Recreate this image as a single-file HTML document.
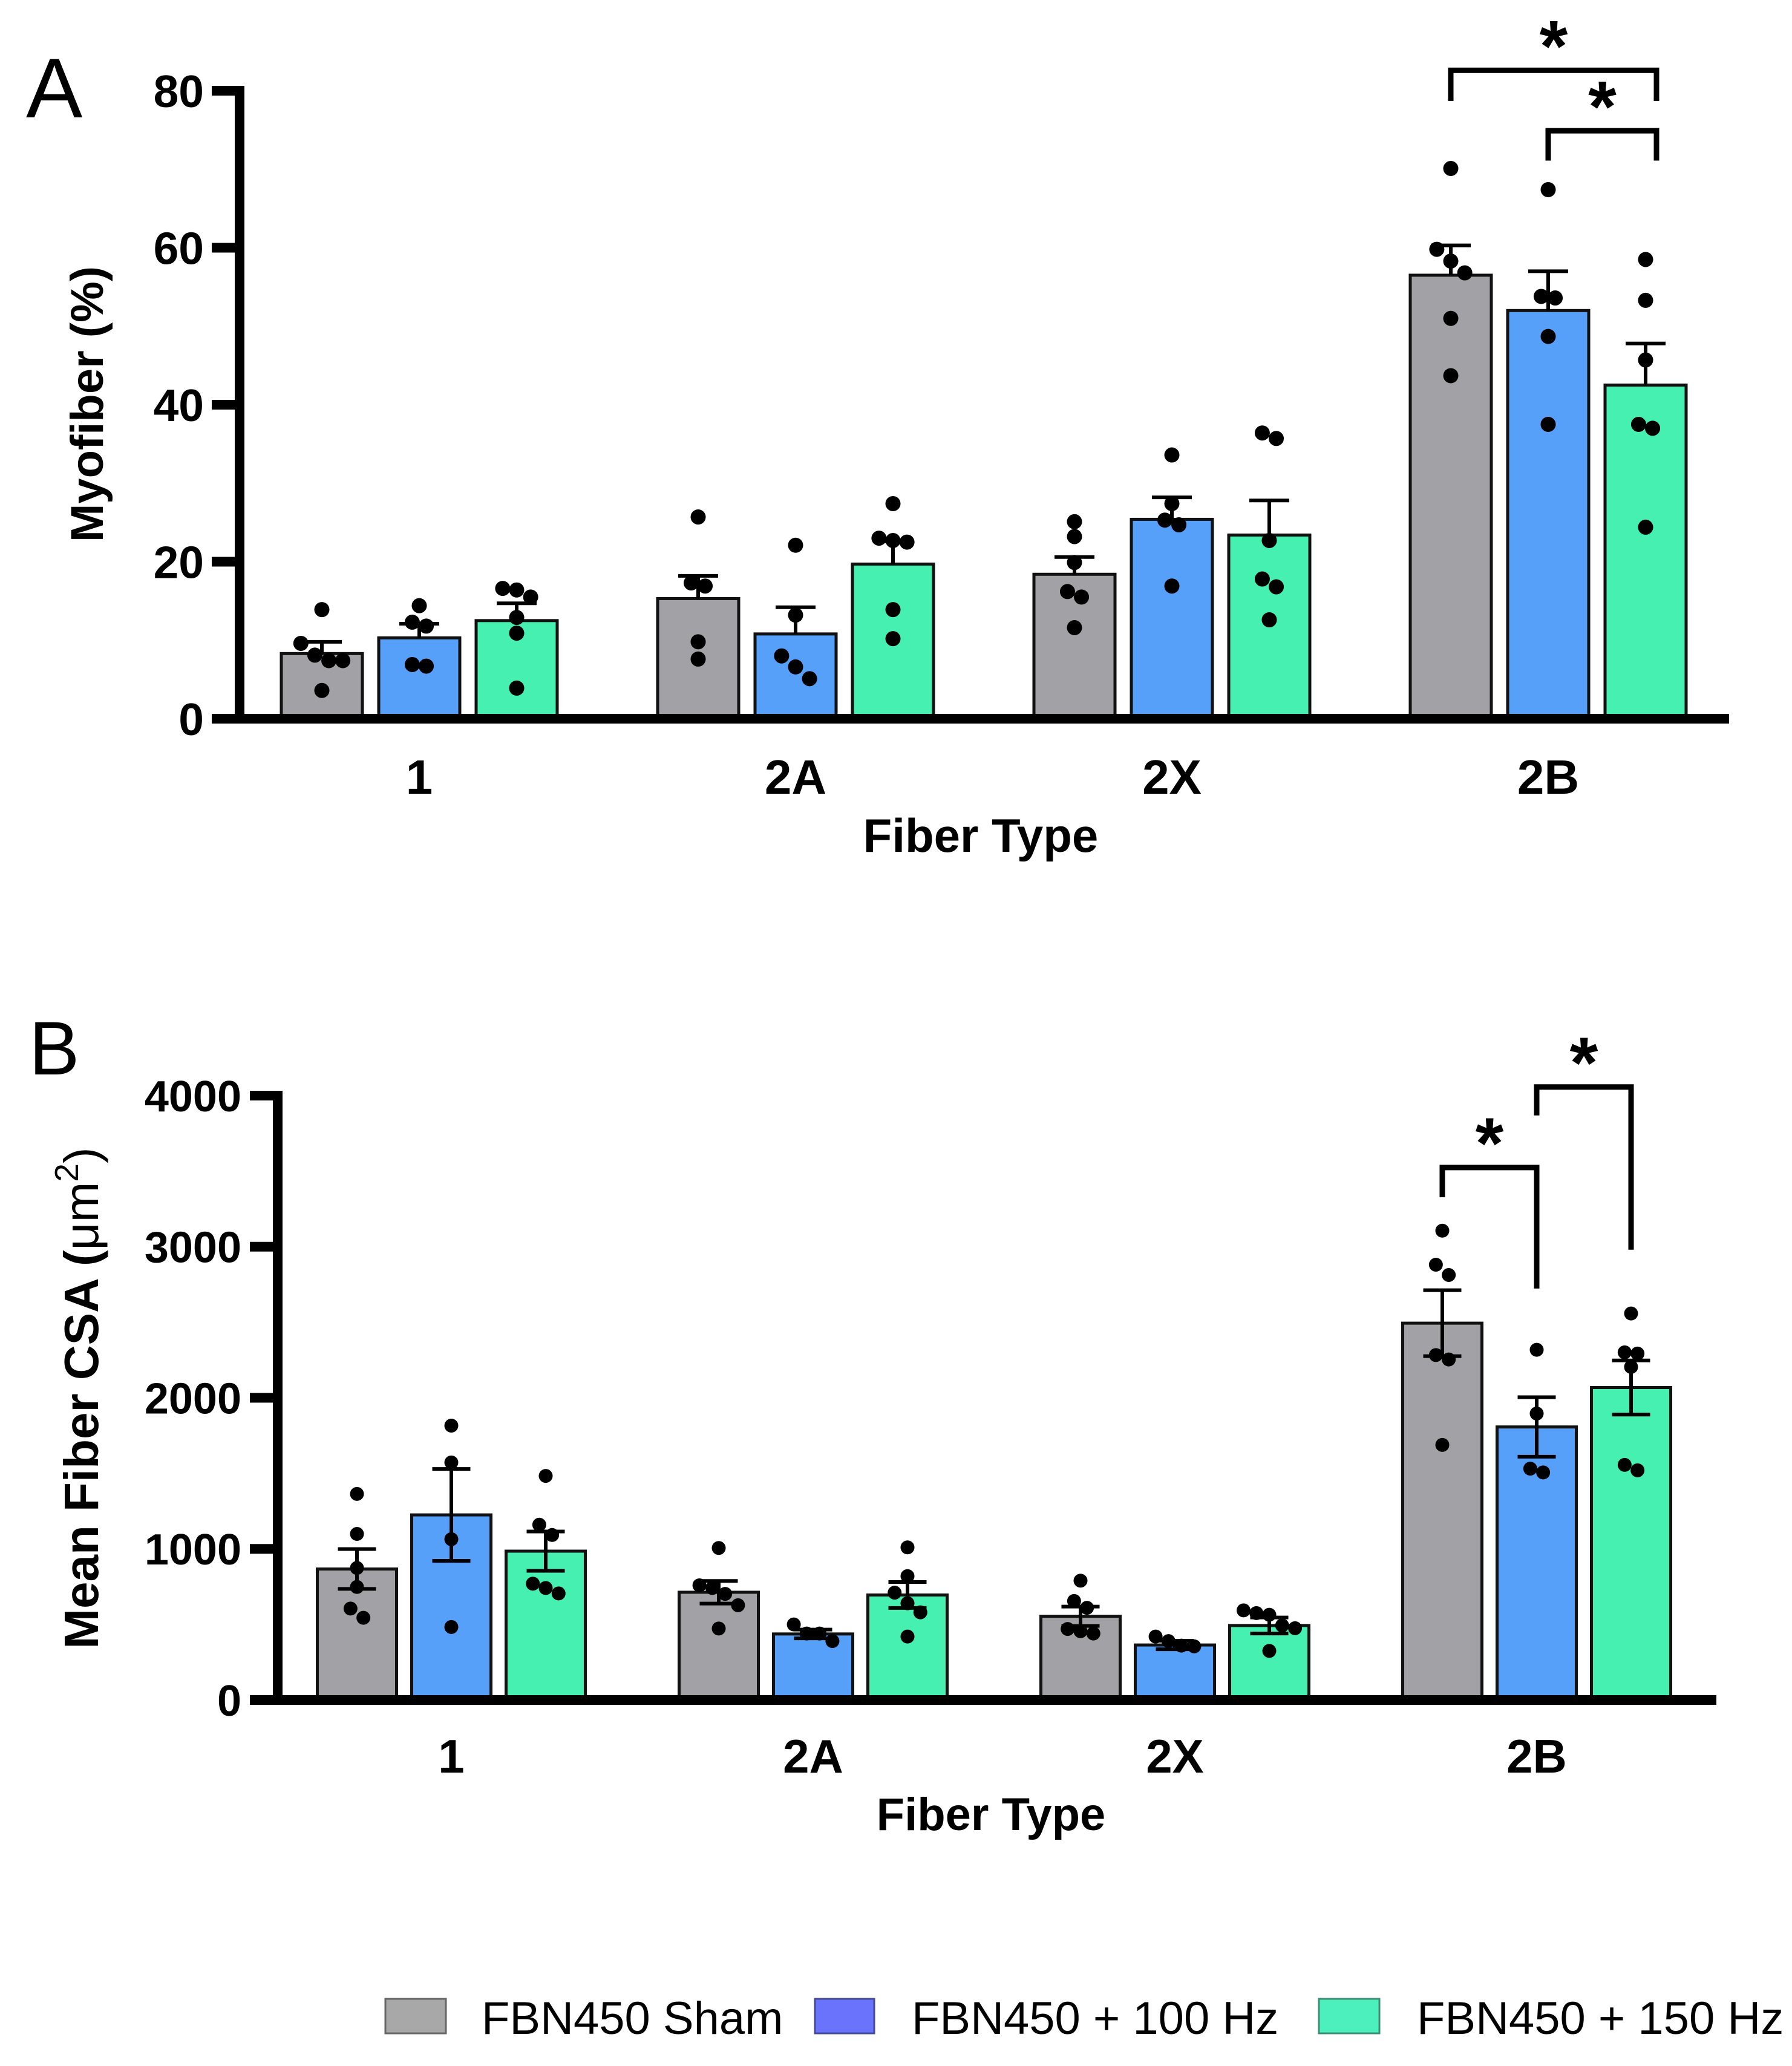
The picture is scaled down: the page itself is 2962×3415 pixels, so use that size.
<!DOCTYPE html>
<html><head><meta charset="utf-8">
<style>
html,body{margin:0;padding:0;background:#fff;}
svg{display:block;font-family:"Liberation Sans",Arial,sans-serif;}
</style></head>
<body>
<svg id="fig" width="2962" height="3415" viewBox="0 0 2962 3415" xmlns="http://www.w3.org/2000/svg">
  <rect x="0" y="0" width="2962" height="3415" fill="#fff"/>
  <text x="43" y="194" font-size="140">A</text>
  <text x="48" y="1776" font-size="125">B</text>
  <g id="chartA"></g>
  <g id="chartB"></g>
  <g>
    <g>
      <rect x="637" y="3304" width="100" height="57" fill="#a8a8a8" stroke="#666" stroke-width="3"/>
      <text x="796" y="3362" font-size="76">FBN450 Sham</text>
    </g>
    <g>
      <rect x="1347" y="3304" width="98" height="57" fill="#6a73fb" stroke="#444a99" stroke-width="3"/>
      <text x="1507" y="3362" font-size="76">FBN450 + 100 Hz</text>
    </g>
    <g>
      <rect x="2180" y="3304" width="100" height="57" fill="#4cf0bc" stroke="#3a8f73" stroke-width="3"/>
      <text x="2342" y="3362" font-size="76">FBN450 + 150 Hz</text>
    </g>
  </g>
</svg>
<script>
// ---------- shared ----------
const categories = ["1", "2A", "2X", "2B"];
const seriesNames = ["sham", "100hz", "150hz"];
const seriesColors = ["#a2a2a6", "#56a0fa", "#45f0b0"];

// ---------- Chart A data (Myofiber %) ----------
const aTicks = [0, 20, 40, 60, 80];
const aMeans = [[8.3, 10.3, 12.5], [15.3, 10.8, 19.7], [18.4, 25.4, 23.4], [56.5, 52.0, 42.5]];
const aErr = [[1.5, 1.8, 2.2], [2.9, 3.4, 2.9], [2.2, 2.8, 4.4], [3.8, 5.0, 5.3]];
const aPoints = [
  [[13.9, 9.6, 8.1, 7.4, 7.4, 3.6], [14.4, 12.3, 11.8, 6.9, 6.7], [16.6, 16.4, 15.5, 12.9, 10.9, 3.9]],
  [[25.7, 17.3, 16.9, 9.8, 7.6], [22.1, 13.2, 8.0, 6.6, 5.1], [27.4, 23.0, 22.7, 22.5, 13.9, 10.2]],
  [[25.1, 23.2, 19.9, 16.2, 15.5, 11.6], [33.6, 27.4, 25.3, 24.7, 16.9], [36.4, 35.7, 22.7, 17.8, 16.8, 12.6]],
  [[70.1, 59.8, 58.3, 56.8, 51.0, 43.7], [67.4, 53.8, 53.6, 48.7, 37.5], [58.5, 53.3, 45.7, 37.5, 37.0, 24.4]]
];
// brackets: [group, fromSeries, toSeries, topValue, leftLegValue, rightLegValue]
const aBrackets = [[3, 0, 2, 82.6, 78.7, 78.7], [3, 1, 2, 74.9, 71.1, 71.1]];

// ---------- Chart B data (CSA um^2) ----------
const bTicks = [0, 1000, 2000, 3000, 4000];
const bMeans = [[867, 1225, 985], [713, 437, 695], [554, 364, 493], [2494, 1807, 2068]];
const bErr = [[132, 304, 130], [75, 29, 86], [64, 28, 53], [218, 197, 179]];
const bPoints = [
  [[1364, 1099, 874, 748, 605, 544], [1816, 1572, 1064, 483], [1483, 1160, 1092, 770, 741, 705]],
  [[1006, 759, 741, 702, 627, 473], [500, 440, 440, 390], [1010, 820, 710, 640, 580, 420]],
  [[790, 655, 610, 470, 455, 440], [420, 390, 360, 355], [593, 575, 564, 493, 475, 325]],
  [[3106, 2881, 2813, 2283, 2254, 1688], [2318, 1896, 1531, 1506], [2558, 2301, 2293, 2204, 1556, 1520]]
];
const bBrackets = [[3, 0, 1, 3524, 3328, 2723], [3, 1, 2, 4057, 3869, 2980]];

const NS = "http://www.w3.org/2000/svg";
function mk(parent, tag, attrs) {
  const e = document.createElementNS(NS, tag);
  for (const k in attrs) e.setAttribute(k, attrs[k]);
  parent.appendChild(e);
  return e;
}

function drawChart(g, cfg, ticks, means, errs, points, brackets) {
  const yMax = ticks[ticks.length - 1];
  const yS = v => cfg.y0 - (v / yMax) * (cfg.y0 - cfg.yTop);
  const xC = (gi, si) => cfg.c0 + gi * cfg.gStep + (si - 1) * cfg.pitch;

  means.forEach((row, gi) => row.forEach((v, si) => {
    const r = mk(g, "rect", {x: xC(gi, si) - cfg.bw / 2, y: yS(v), width: cfg.bw, height: cfg.y0 - yS(v),
      fill: seriesColors[si], stroke: "#111", "stroke-width": 5});
    
    
  }));
  means.forEach((row, gi) => row.forEach((v, si) => {
    const e = errs[gi][si], x = xC(gi, si);
    const eg = mk(g, "g", {stroke: "#000", "stroke-width": 6});
    
    
    const lo = cfg.both ? v - e : v;
    mk(eg, "line", {x1: x, x2: x, y1: yS(lo), y2: yS(v + e)});
    mk(eg, "line", {x1: x - cfg.cap / 2, x2: x + cfg.cap / 2, y1: yS(v + e), y2: yS(v + e)});
    if (cfg.both) mk(eg, "line", {x1: x - cfg.cap / 2, x2: x + cfg.cap / 2, y1: yS(v - e), y2: yS(v - e)});
  }));
  points.forEach((row, gi) => row.forEach((pts, si) => {
    const sorted = pts.slice().sort((a, b) => b - a);
    const clusters = [];
    sorted.forEach(v => {
      const last = clusters[clusters.length - 1];
      if (last && Math.abs(yS(last[last.length - 1]) - yS(v)) < cfg.r * 1.8) last.push(v);
      else clusters.push([v]);
    });
    clusters.forEach(cl => cl.forEach((v, i) => {
      const off = (i - (cl.length - 1) / 2) * cfg.r * 1.85;
      const c = mk(g, "circle", {cx: xC(gi, si) + off, cy: yS(v), r: cfg.r, fill: "#000"});
      
      
    }));
  }));
  const ax = mk(g, "g", {stroke: "#000", "stroke-width": 16, fill: "none"});
  
  
  mk(ax, "line", {x1: cfg.ax, x2: cfg.ax, y1: cfg.yTop - 8, y2: cfg.y0});
  mk(ax, "line", {x1: cfg.tickL, x2: cfg.xEnd, y1: cfg.y0, y2: cfg.y0});
  ticks.forEach(t => {
    const tk = mk(ax, "line", {x1: cfg.tickL, x2: cfg.ax, y1: yS(t), y2: yS(t)});
    
    
    const tl = mk(g, "text", {x: cfg.tickLabelX, y: yS(t) + cfg.tickFs * 0.36, "font-size": cfg.tickFs,
      "font-weight": "bold", "text-anchor": "end"});
    tl.textContent = t;
    
    
  });
  categories.forEach((c, gi) => {
    const t = mk(g, "text", {x: xC(gi, 1), y: cfg.xLabelY, "font-size": cfg.xFs, "font-weight": "bold", "text-anchor": "middle"});
    t.textContent = c;
    
    
  });
  brackets.forEach((b, bi) => {
    const [gi, s1, s2, top, l1, l2] = b;
    const x1 = xC(gi, s1), x2 = xC(gi, s2) + cfg.brExt;
    const p = mk(g, "polyline", {points: `${x1},${yS(l1)} ${x1},${yS(top)} ${x2},${yS(top)} ${x2},${yS(l2)}`,
      fill: "none", stroke: "#000", "stroke-width": 9});
    
    
    const st = mk(g, "text", {x: (x1 + x2) / 2, y: yS(top) - 66 + 0.56 * 120, "font-size": 120, "font-weight": "bold", "text-anchor": "middle"});
    st.textContent = "*";
    
    
  });
}

drawChart(document.getElementById("chartA"),
  {y0: 1188, yTop: 150, ax: 396, tickL: 350, xEnd: 2858, c0: 693, gStep: 622, pitch: 161, bw: 134,
   cap: 66, r: 12.5, both: false, tickLabelX: 337, tickFs: 75, xFs: 80, xLabelY: 1312, brExt: 18},
  aTicks, aMeans, aErr, aPoints, aBrackets);
drawChart(document.getElementById("chartB"),
  {y0: 2810, yTop: 1811, ax: 459, tickL: 413, xEnd: 2837, c0: 746, gStep: 598, pitch: 156, bw: 131,
   cap: 63, r: 11.5, both: true, tickLabelX: 399, tickFs: 72, xFs: 78, xLabelY: 2930, brExt: 0},
  bTicks, bMeans, bErr, bPoints, bBrackets);

const svg = document.getElementById("fig");
function title(name, x, y, fs, txt, rot) {
  const t = mk(svg, "text", {x: x, y: y, "font-size": fs, "font-weight": "bold", "text-anchor": "middle"});
  if (rot) t.setAttribute("transform", `rotate(-90 ${x} ${y})`);
  t.textContent = txt;
  
  
  return t;
}
title("x-axis-title-a", 1621, 1408, 78, "Fiber Type", false);
title("x-axis-title-b", 1638, 3025, 76, "Fiber Type", false);
title("y-axis-title-a", 170, 668, 76, "Myofiber (%)", true);
const yb = title("y-axis-title-b", 162, 2311, 80, "Mean Fiber CSA (", true);
const ts1 = mk(yb, "tspan", {"font-weight": "normal"}); ts1.textContent = "\u03BCm";
const ts2 = mk(yb, "tspan", {"font-weight": "normal", "font-size": 55, dy: -33}); ts2.textContent = "2";
const ts3 = mk(yb, "tspan", {"font-weight": "normal", dy: 33}); ts3.textContent = ")";
</script>
</body></html>
